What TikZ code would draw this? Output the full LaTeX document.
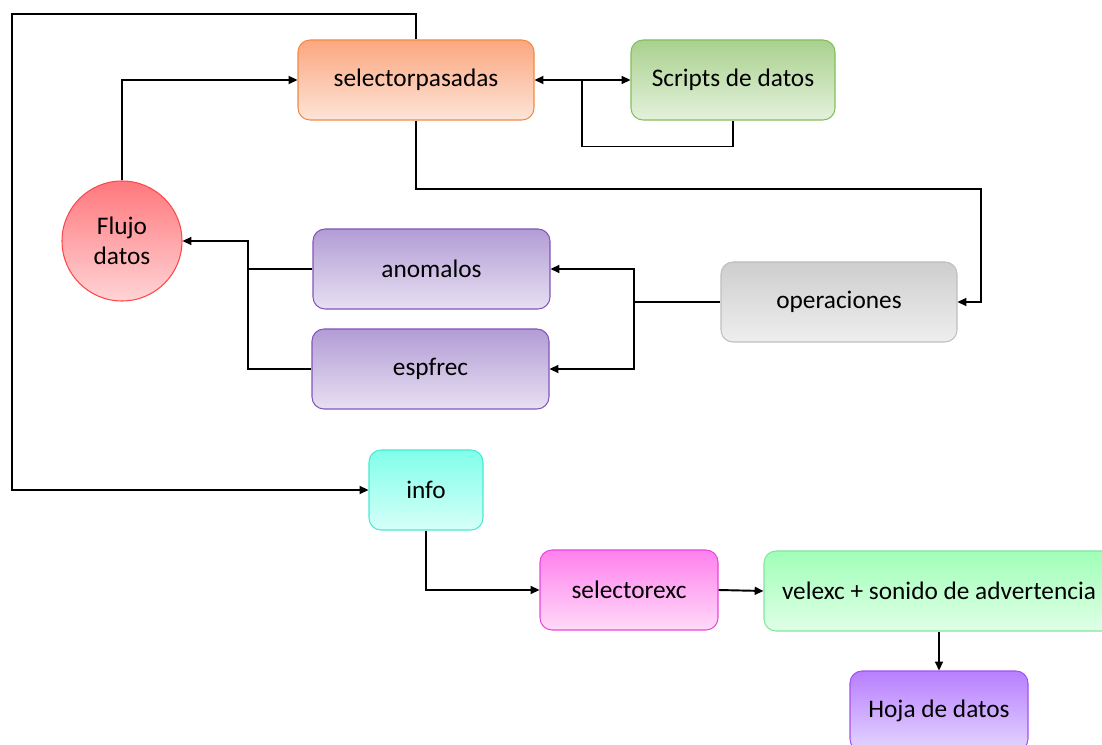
\documentclass[tikz,border=0pt]{standalone}
\usepackage{fontspec}
\setmainfont{Carlito}
\usetikzlibrary{arrows.meta}

\definecolor{naranja}{RGB}{240,138,70}
\definecolor{verde}{RGB}{130,190,90}
\definecolor{rojo}{RGB}{255,70,75}
\definecolor{morado}{RGB}{130,85,185}
\definecolor{gris}{RGB}{190,190,190}
\definecolor{cian}{RGB}{70,235,210}
\definecolor{rosa}{RGB}{235,70,220}
\definecolor{menta}{RGB}{130,230,160}
\definecolor{violeta}{RGB}{165,80,240}

\tikzset{
  caja/.style={draw, rounded corners=0.24cm, line width=0.6pt, minimum height=1.6cm,
    align=center, font=\fontsize{14.4}{17}\selectfont},
  flecha/.style={line width=1.1pt, -{Triangle[length=5pt,width=4.5pt]}},
  linea/.style={line width=1.1pt},
}

\begin{document}
\begin{tikzpicture}
\useasboundingbox (0,0) rectangle (22.04,-14.9);
% bloques
\node[caja, draw=naranja, top color={rgb,255:red,251;green,167;blue,127}, bottom color={rgb,255:red,253;green,228;blue,216}, minimum width=4.72cm] (selp) at (8.32,-1.6) {selectorpasadas};
\node[caja, draw=verde, top color={rgb,255:red,169;green,209;blue,142}, bottom color={rgb,255:red,228;green,241;blue,220}, minimum width=4.08cm] (scripts) at (14.66,-1.6) {Scripts de datos};
\node[caja, circle, draw=rojo, top color={rgb,255:red,255;green,120;blue,125}, bottom color={rgb,255:red,255;green,212;blue,214}, minimum size=2.4cm] (flujo) at (2.44,-4.82) {Flujo\\datos};
\node[caja, draw=morado, top color={rgb,255:red,178;green,156;blue,213}, bottom color={rgb,255:red,231;green,224;blue,242}, minimum width=4.74cm] (anom) at (8.63,-5.38) {anomalos};
\node[caja, draw=morado, top color={rgb,255:red,178;green,156;blue,213}, bottom color={rgb,255:red,231;green,224;blue,242}, minimum width=4.74cm] (espf) at (8.61,-7.38) {espfrec};
\node[caja, draw=gris, top color={rgb,255:red,206;green,206;blue,206}, bottom color={rgb,255:red,238;green,238;blue,238}, minimum width=4.72cm] (oper) at (16.78,-6.04) {operaciones};
\node[caja, draw=cian, top color={rgb,255:red,128;green,255;blue,234}, bottom color={rgb,255:red,214;green,255;blue,248}, minimum width=2.28cm] (info) at (8.52,-9.8) {info};
\node[caja, draw=rosa, top color={rgb,255:red,255;green,128;blue,238}, bottom color={rgb,255:red,255;green,218;blue,248}, minimum width=3.56cm] (selx) at (12.58,-11.8) {selectorexc};
\node[caja, draw=menta, top color={rgb,255:red,160;green,255;blue,184}, bottom color={rgb,255:red,224;green,255;blue,230}, minimum width=7cm] (velx) at (18.78,-11.82) {velexc + sonido de advertencia};
\node[caja, draw=violeta, top color={rgb,255:red,184;green,126;blue,255}, bottom color={rgb,255:red,228;green,214;blue,255}, minimum width=3.56cm] (hoja) at (18.78,-14.22) {Hoja de datos};

% puntos de quiebre
\coordinate (esq) at (0.24,-0.28);
\coordinate (ret) at (11.64,-1.6);
\coordinate (giro) at (19.62,-3.78);
\coordinate (rama) at (12.68,-6.04);
\coordinate (junta) at (4.96,-4.82);

% conexiones
\draw[flecha] (selp.north) |- (esq) |- (info.west);
\draw[flecha] (flujo.north) |- (selp.west);
\draw[flecha, {Triangle[length=5pt,width=4.5pt]}-{Triangle[length=5pt,width=4.5pt]}] (selp.east) -- (scripts.west);
\draw[linea] (scripts.south) -- ++(0,-0.52) -| (ret);
\draw[flecha] (selp.south) |- (giro) |- (oper.east);
\draw[linea] (oper.west) -- (rama);
\draw[flecha] (rama) |- (anom.east);
\draw[flecha] (rama) |- (espf.east);
\draw[linea] (anom.west) -- (anom.west -| junta);
\draw[flecha] (espf.west) -| (junta) -- (flujo.east);
\draw[flecha] (info.south) |- (selx.west);
\draw[flecha] (selx.east) -- (velx.west);
\draw[flecha] (velx.south -| hoja.north) -- (hoja.north);
\end{tikzpicture}
\end{document}
